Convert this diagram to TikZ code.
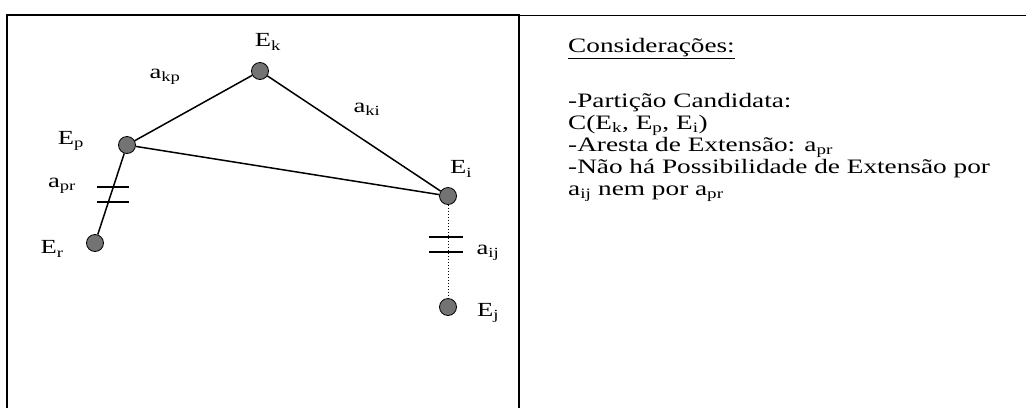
\documentclass[tikz,border=0pt]{standalone}
\usepackage{fontspec}
\setmainfont{Liberation Serif}[FakeStretch=1.33]
\usetikzlibrary{calc}
\begin{document}
\begin{tikzpicture}[x=1pt,y=-1pt,
  vert/.style={circle,draw=black,fill=black!55,line width=0.8pt,inner sep=0pt,minimum size=17pt},
  edge/.style={line width=1.5pt},
  lbl/.style={font=\fontsize{20}{22}\selectfont,inner sep=0pt},
  txt/.style={font=\fontsize{20.5}{22}\selectfont,anchor=base west,inner sep=0pt},
  bar/.style={line width=1.5pt}]
\useasboundingbox (0,0) rectangle (1026,408);
% frame
\draw[line width=1.4pt] (7,408) -- (7,15) -- (519,15) -- (519,408);
\draw[line width=0.8pt] (519,15) -- (1026,15);
% vertices
\node[vert] (Ek) at (260,71) {};
\node[vert] (Ep) at (127,145) {};
\node[vert] (Ei) at (448,196) {};
\node[vert] (Er) at (95,243) {};
\node[vert] (Ej) at (448,307) {};
% edges
\draw[edge] (Ek) -- (Ep);
\draw[edge] (Ek) -- (Ei);
\draw[edge] (Ep) -- (Ei);
\draw[edge] (Ep) -- (Er);
\draw[line width=1pt,dotted] (Ei) -- (Ej);
% bars
\coordinate (b1) at (113,187);
\coordinate (b2) at (113,202);
\coordinate (b3) at (446,237);
\coordinate (b4) at (446,252);
\draw[bar] ($(b1)+(-16,0)$) -- ($(b1)+(16,0)$);
\draw[bar] ($(b2)+(-16,0)$) -- ($(b2)+(16,0)$);
\draw[bar] ($(b3)+(-17,0)$) -- ($(b3)+(17,0)$);
\draw[bar] ($(b4)+(-17,0)$) -- ($(b4)+(17,0)$);
% labels
\node[lbl] (lEk) at (268,42) {E\textsubscript{k}};
\node[lbl] (lakp) at (165,77) {a\textsubscript{kp}};
\node[lbl] (laki) at (367,109) {a\textsubscript{ki}};
\node[lbl] (lEp) at (71,141) {E\textsubscript{p}};
\node[lbl] (lEi) at (461,169) {E\textsubscript{i}};
\node[lbl] (lapr) at (62,186) {a\textsubscript{pr}};
\node[lbl] (lEr) at (52,249) {E\textsubscript{r}};
\node[lbl] (laij) at (488,253) {a\textsubscript{ij}};
\node[lbl] (lEj) at (488,313) {E\textsubscript{j}};
% text
\node[txt] (t1) at (568,52) {\underline{Considerações:}};
\node[txt] (t2) at (568,107) {-Partição Candidata:};
\node[txt] (t3) at (568,129) {C(E\textsubscript{k}, E\textsubscript{p}, E\textsubscript{i})};
\node[txt] (t4) at (568,151) {-Aresta de Extensão: a\textsubscript{pr}};
\node[txt] (t5) at (568,173) {-Não há Possibilidade de Extensão por};
\node[txt] (t6) at (568,195) {a\textsubscript{ij} nem por a\textsubscript{pr}};
\end{tikzpicture}
\end{document}
